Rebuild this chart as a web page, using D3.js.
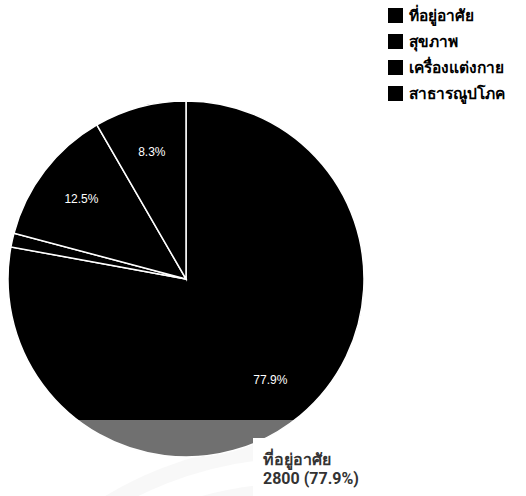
<!DOCTYPE html>
<html>
<head>
<meta charset="utf-8">
<script src="https://cdn.jsdelivr.net/npm/d3@7"></script>
<style>
  html, body { margin: 0; padding: 0; background: #fff; }
  svg { display: block; }
</style>
</head>
<body>
<svg id="chart" width="526" height="496"></svg>
<script>
const categories = ["ที่อยู่อาศัย", "สุขภาพ", "เครื่องแต่งกาย", "สาธารณูปโภค"];
const values = [2800, 45, 450, 300];
const colors = ["#000000", "#000000", "#000000", "#000000"];
const tooltipIndex = 0;

const svg = d3.select("#chart");
const W = 526, H = 496;
const cx = 186, cy = 279, R = 178;

// faint background arcs
const bg = svg.append("g");
bg.append("circle").attr("cx", 300).attr("cy", 820).attr("r", 370)
  .attr("fill", "none").attr("stroke", "#f3f3f3").attr("stroke-width", 16);
bg.append("circle").attr("cx", 300).attr("cy", 860).attr("r", 370)
  .attr("fill", "none").attr("stroke", "#f3f3f3").attr("stroke-width", 14);

const total = d3.sum(values);
const data = categories.map((c, i) => ({ cat: c, value: values[i], i }));
const pie = d3.pie().value(d => d.value).sort(null);
const arc = d3.arc().innerRadius(0).outerRadius(R);
const labelArc = d3.arc().innerRadius(R * 0.74).outerRadius(R * 0.74);

const g = svg.append("g").attr("transform", `translate(${cx},${cy})`);
const arcs = pie(data);
g.selectAll("path").data(arcs).join("path")
  .attr("d", arc)
  .attr("fill", d => colors[d.data.i])
  .attr("stroke", "#fff")
  .attr("stroke-width", 1.5);

const fmt = v => (v / total * 100).toFixed(1) + "%";
g.selectAll("text").data(arcs.filter(d => d.value / total > 0.05)).join("text")
  .attr("transform", d => `translate(${labelArc.centroid(d)})`)
  .attr("text-anchor", "middle")
  .attr("dy", "0.35em")
  .attr("fill", "#fff")
  .style("font-family", "'Liberation Sans', Arial, sans-serif")
  .style("font-size", "12px")
  .text(d => fmt(d.value));

// grey wash at the bottom
svg.append("rect").attr("x", 0).attr("y", 420).attr("width", W).attr("height", H - 420)
  .attr("fill", "#fff").attr("opacity", 0.44);

// tooltip
const tip = svg.append("g").attr("transform", "translate(253,438)");
tip.append("rect").attr("width", 273).attr("height", 58).attr("fill", "#fff");
tip.append("text").attr("x", 10).attr("y", 27)
  .attr("fill", "#333").style("font-family", "Roboto, 'Noto Sans', sans-serif")
  .style("font-size", "16px").style("font-weight", "bold")
  .text(categories[tooltipIndex]);
tip.append("text").attr("x", 10).attr("y", 46)
  .attr("fill", "#333").style("font-family", "Roboto, 'Noto Sans', sans-serif")
  .style("font-size", "16px").style("font-weight", "bold")
  .text(`${values[tooltipIndex]} (${fmt(values[tooltipIndex])})`);

// legend
const lg = svg.append("g").attr("transform", "translate(388,8)");
const items = lg.selectAll("g").data(categories).join("g")
  .attr("transform", (d, i) => `translate(0,${i * 26})`);
items.append("rect").attr("width", 15).attr("height", 15).attr("fill", (d, i) => colors[i]);
items.append("text").attr("x", 21).attr("y", 13)
  .attr("fill", "#000").style("font-family", "'Noto Sans', sans-serif")
  .style("font-size", "15.5px").style("font-weight", "bold")
  .text(d => d);
</script>
</body>
</html>
